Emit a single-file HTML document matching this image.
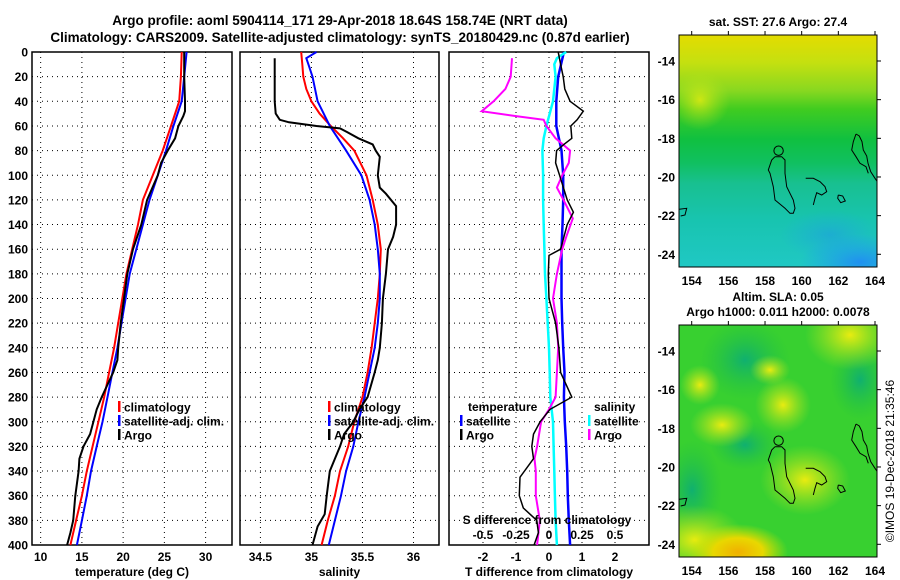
<!DOCTYPE html>
<html><head><meta charset="utf-8"><style>
html,body{margin:0;padding:0;background:#fff}
svg{display:block;font-family:"Liberation Sans",Arial,sans-serif;font-weight:bold}
</style></head><body>
<svg id="fig" width="900" height="580" viewBox="0 0 900 580">
<defs>
<linearGradient id="sstGrad" x1="0" y1="0" x2="0" y2="1">
<stop offset="0" stop-color="#e4dc00"/><stop offset="0.12" stop-color="#c4e010"/><stop offset="0.24" stop-color="#88d820"/>
<stop offset="0.32" stop-color="#40cc20"/><stop offset="0.45" stop-color="#10c040"/><stop offset="0.55" stop-color="#10c060"/>
<stop offset="0.64" stop-color="#18c090"/><stop offset="0.8" stop-color="#18c4b0"/><stop offset="1" stop-color="#20c8c4"/></linearGradient>
<radialGradient id="blueBlob" cx="0.5" cy="0.5" r="0.5"><stop offset="0" stop-color="#2090f0"/><stop offset="1" stop-color="#20a0f0" stop-opacity="0"/></radialGradient>
<radialGradient id="yelBlob" cx="0.5" cy="0.5" r="0.5"><stop offset="0" stop-color="#e8ec10"/><stop offset="1" stop-color="#b0e420" stop-opacity="0"/></radialGradient>
<radialGradient id="orBlob" cx="0.5" cy="0.5" r="0.5"><stop offset="0" stop-color="#f0b000"/><stop offset="0.5" stop-color="#e8d800"/><stop offset="1" stop-color="#c8e400" stop-opacity="0"/></radialGradient>
<radialGradient id="tealBlob" cx="0.5" cy="0.5" r="0.5"><stop offset="0" stop-color="#10b070"/><stop offset="1" stop-color="#20c040" stop-opacity="0"/></radialGradient>
<clipPath id="clipTop"><rect x="679" y="35" width="198" height="232"/></clipPath>
<clipPath id="clipBot"><rect x="679" y="325" width="198" height="232"/></clipPath>
</defs>
<text x="340" y="25" text-anchor="middle" font-size="13.5">Argo profile: aoml 5904114_171 29-Apr-2018 18.64S 158.74E (NRT data)</text>
<text x="340" y="42" text-anchor="middle" font-size="13.5">Climatology: CARS2009. Satellite-adjusted climatology: synTS_20180429.nc (0.87d earlier)</text>
<g id="panels"></g>
<g id="maps"></g>
</svg>
<script>
// ---- data (depth in m) ----
const tDepth=[0,20,40,60,80,100,120,140,160,180,200,220,240,260,280,300,320,340,360,380,400];
const tClim=[27.1,27.0,26.8,25.8,24.8,23.6,22.4,21.8,21.1,20.4,19.9,19.4,18.9,18.3,17.7,17.0,16.3,15.6,15.0,14.3,13.6];
const tSat=[27.7,27.4,27.1,26.1,25.2,24.2,23.2,22.4,21.6,20.8,20.3,19.8,19.3,18.7,18.1,17.5,16.8,16.1,15.6,15.0,14.4];
const argoDepth=[0,20,40,48,52,60,70,80,90,100,120,140,160,180,200,220,240,250,260,280,290,300,310,320,330,340,360,380,390,400];
const tArgo=[27.4,27.4,27.5,27.5,27.3,26.7,26.3,25.4,24.6,24.2,22.9,22.2,21.2,20.5,20.1,19.7,19.4,19.3,18.8,17.4,16.8,16.4,16.0,15.2,14.7,14.6,14.2,13.95,13.6,13.2];
const sDepth=[0,10,20,30,40,50,60,70,80,90,100,120,140,160,180,200,220,240,260,280,300,320,340,360,380,400];
const sClim=[34.90,34.91,34.92,34.95,35.00,35.08,35.19,35.31,35.42,35.48,35.54,35.60,35.65,35.68,35.67,35.65,35.62,35.59,35.55,35.50,35.42,35.36,35.28,35.23,35.16,35.10];
const sSatDepth=[0,5,10,20,40,60,80,100,120,140,160,180,200,220,240,260,280,300,320,340,360,380,400];
const sSat=[35.05,34.95,34.97,35.01,35.06,35.18,35.34,35.49,35.57,35.62,35.65,35.67,35.67,35.65,35.62,35.57,35.52,35.46,35.41,35.34,35.29,35.23,35.17];
const sArgoDepth=[5,20,40,50,55,57,60,62,65,70,75,80,85,100,110,115,125,140,150,160,180,200,220,240,250,260,280,290,300,310,320,330,340,360,375,385,400];
const sArgo=[34.64,34.64,34.64,34.65,34.69,34.78,35.05,35.28,35.35,35.46,35.60,35.63,35.67,35.65,35.67,35.73,35.83,35.83,35.80,35.75,35.73,35.70,35.69,35.67,35.65,35.62,35.55,35.47,35.41,35.32,35.28,35.23,35.18,35.15,35.13,35.06,35.01];
const dTSatDepth=[0,20,40,60,80,100,120,140,160,180,200,220,240,260,280,300,320,340,360,380,400];
const dTSat=[0.45,0.28,0.22,0.22,0.38,0.43,0.43,0.41,0.38,0.38,0.38,0.40,0.43,0.47,0.45,0.48,0.52,0.55,0.57,0.60,0.64];
const dSSatDepth=[0,5,10,20,40,60,70,80,100,120,140,160,180,200,220,240,260,280,300,320,340,360,380,400];
const dSSat=[0.13,0.06,0.04,0.05,0.03,-0.02,-0.04,-0.05,-0.045,-0.045,-0.04,-0.035,-0.03,-0.02,-0.01,0,0.005,0.01,0.03,0.035,0.04,0.045,0.05,0.06];
const dSArgoDepth=[5,20,30,40,48,52,55,60,70,80,90,100,110,120,135,150,160,180,200,220,240,260,280,290,300,320,330,340,360,380,400];
const dSArgo=[-0.28,-0.29,-0.33,-0.42,-0.51,-0.25,-0.04,-0.02,0.05,0.16,0.15,0.10,0.06,0.11,0.18,0.13,0.10,0.06,0.03,0.06,0.07,0.06,0.05,0,-0.06,-0.09,-0.11,-0.10,-0.10,-0.07,-0.09];
const dTArgoDepth=[0,10,20,30,40,48,55,60,70,75,80,90,100,120,130,140,160,165,180,200,220,240,260,280,290,300,310,320,330,345,360,370,380,390,400];
const dTArgo=[0.28,0.35,0.43,0.48,0.64,1.04,0.85,0.66,0.69,0.45,0.23,0.20,0.32,0.55,0.74,0.55,0.35,0.0,-0.02,0.0,0.2,0.3,0.35,0.69,0.03,-0.27,-0.47,-0.52,-0.47,-0.88,-0.9,-0.78,-0.37,-0.32,-0.45];
const depthTicks=[0,20,40,60,80,100,120,140,160,180,200,220,240,260,280,300,320,340,360,380,400];
const tTicks=[10,15,20,25,30];
const sTicks=[34.5,35,35.5,36];
const dTicks=[-2,-1,0,1,2];
const dSTickLabels=["-0.5","-0.25","0","0.25","0.5"];
const lonTicks=[154,156,158,160,162,164];
const latTicks=[-14,-16,-18,-20,-22,-24];

const NS="http://www.w3.org/2000/svg";
function mk(tag,attrs,parent){const e=document.createElementNS(NS,tag);for(const k in attrs)e.setAttribute(k,attrs[k]);parent.appendChild(e);return e;}
const P0=52,P1=545;
const yD=d=>P0+d*(P1-P0)/400;
const panels=document.getElementById('panels');

function panel(name,x0,x1,v0,v1,ticks,labels,title){
  const g=mk('g',{},panels);
  
  
  const xs=v=>x0+(v-v0)*(x1-x0)/(v1-v0);
  ticks.forEach((t,i)=>{
    const X=xs(t);
    const gl=mk('line',{x1:X,x2:X,y1:P0,y2:P1,stroke:'#000','stroke-width':1,'stroke-dasharray':'1 4'},g);
    
    
    const tl=mk('text',{x:X,y:561,'text-anchor':'middle','font-size':12},g);
    tl.textContent=labels[i];
    
    
  });
  depthTicks.forEach(d=>{
    const Y=yD(d);
    if(d>0&&d<400){
      const gl=mk('line',{x1:x0,x2:x1,y1:Y,y2:Y,stroke:'#000','stroke-width':1,'stroke-dasharray':'1 4'},g);
      
      
    }
  });
  const fr=mk('rect',{x:x0,y:P0,width:x1-x0,height:P1-P0,fill:'none',stroke:'#000','stroke-width':1.5},g);
  
  
  if(title){
    const tt=mk('text',{x:(x0+x1)/2,y:576,'text-anchor':'middle','font-size':12},g);
    tt.textContent=title;
    
    
  }
  return {g,xs};
}
function line(p,depths,vals,color,name,w){
  const pts=depths.map((d,i)=>p.xs(vals[i]).toFixed(1)+','+yD(d).toFixed(1)).join(' ');
  const l=mk('polyline',{points:pts,fill:'none',stroke:color,'stroke-width':w||2},p.g);
  
  
}
function legend(g,x,y,color,label,name){
  const b=mk('rect',{x:x,y:y-6,width:2.5,height:11,fill:color},g);
  
  
  const t=mk('text',{x:x+6,y:y+4.5,'font-size':12},g);
  t.textContent=label;
  
  
}
depthTicks.forEach(d=>{
  const t=mk('text',{x:28,y:yD(d)+4.5,'text-anchor':'end','font-size':12},panels);
  t.textContent=d;
  
  
});
const pT=panel('temperature',32,232,8.95,33.2,tTicks,tTicks.map(String),'temperature (deg C)');
line(pT,tDepth,tClim,'#ff0000','temperature-climatology-line');
line(pT,tDepth,tSat,'#0000ff','temperature-satellite-line');
line(pT,argoDepth,tArgo,'#000000','temperature-argo-line');
legend(pT.g,118,407,'#ff0000','climatology','legend-climatology');
legend(pT.g,118,421,'#0000ff','satellite-adj. clim.','legend-satellite-adj');
legend(pT.g,118,435,'#000000','Argo','legend-argo');
const pS=panel('salinity',240,439,34.30,36.25,sTicks,sTicks.map(String),'salinity');
line(pS,sDepth,sClim,'#ff0000','salinity-climatology-line');
line(pS,sSatDepth,sSat,'#0000ff','salinity-satellite-line');
line(pS,sArgoDepth,sArgo,'#000000','salinity-argo-line');
legend(pS.g,328,407,'#ff0000','climatology','legend-climatology-sal');
legend(pS.g,328,421,'#0000ff','satellite-adj. clim.','legend-satellite-adj-sal');
legend(pS.g,328,435,'#000000','Argo','legend-argo-sal');
const pD=panel('difference',449,649,-3.03,3.03,dTicks,dTicks.map(String),'T difference from climatology');
const pDS={g:pD.g,xs:v=>pD.xs(v*4)};
line(pD,dTSatDepth,dTSat,'#0000ff','t-diff-satellite-line',2.5);
line(pDS,dSSatDepth,dSSat,'#00ffff','s-diff-satellite-line',2.5);
line(pDS,dSArgoDepth,dSArgo,'#ff00ff','s-diff-argo-line');
line(pD,dTArgoDepth,dTArgo,'#000000','t-diff-argo-line',1.5);
(function(){
  const t=mk('text',{x:468,y:411,'font-size':12},pD.g);t.textContent='temperature';
  
  
  const s=mk('text',{x:594,y:411,'font-size':12},pD.g);s.textContent='salinity';
  
  
})();
legend(pD.g,460,421,'#0000ff','satellite','legend-t-satellite');
legend(pD.g,460,435,'#000000','Argo','legend-t-argo');
legend(pD.g,588,421,'#00ffff','satellite','legend-s-satellite');
legend(pD.g,588,435,'#ff00ff','Argo','legend-s-argo');
(function(){
  const t=mk('text',{x:547,y:524,'text-anchor':'middle','font-size':12},pD.g);t.textContent='S difference from climatology';
  
  
  dSTickLabels.forEach((lab,i)=>{
    const v=parseFloat(lab);
    const e=mk('text',{x:pD.xs(v*4),y:539,'text-anchor':'middle','font-size':12},pD.g);e.textContent=lab;
    
    
  });
})();

const maps=document.getElementById('maps');
const lonX=l=>691.7+(l-154)*18.33;
const latY=(la,off)=>61+off+(-14-la)*19.33;
const coastMain=[[345,470],[335,480],[325,510],[330,520],[340,560],[345,600],[375,625],[390,640],[400,640],[405,625],[400,600],[380,560],[375,520],[375,480],[365,470],[345,470]];
const coastLoy=[[437,535],[460,535],[480,545],[495,560],[500,575],[485,585],[470,578],[465,595],[460,615]];
const coastIsl=[[535,585],[548,588],[556,603],[542,608],[533,595],[535,585]];
const coastVan=[[588,402],[598,408],[606,425],[610,450],[620,468],[624,490],[632,515],[645,535],[652,545]];
const coastVan2=[[588,402],[580,425],[575,450],[588,470],[600,490],[618,500],[625,520]];
const coastNW=[[58,628],[80,625],[75,645],[62,648]];
function map(off,clip,name,kind){
  const g=mk('g',{},maps);
  
  
  const c=mk('g',{'clip-path':'url(#'+clip+')'},g);
  if(kind==='sst'){
    mk('rect',{x:679,y:35+off,width:198,height:232,fill:'url(#sstGrad)'},c);
    mk('ellipse',{cx:860,cy:262+off,rx:60,ry:28,fill:'url(#blueBlob)'},c);
    mk('ellipse',{cx:830,cy:235+off,rx:50,ry:25,fill:'url(#blueBlob)',opacity:0.45},c);
    mk('ellipse',{cx:700,cy:100+off,rx:30,ry:30,fill:'url(#yelBlob)',opacity:0.8},c);
  } else {
    mk('rect',{x:679,y:35+off,width:198,height:232,fill:'#38d030'},c);
    [[745,70,45,40],[692,200,30,50],[745,155,35,25],[860,90,30,40]].forEach(b=>mk('ellipse',{cx:b[0],cy:b[1]+off,rx:b[2],ry:b[3],fill:'url(#tealBlob)'},c));
    [[850,45,45,35],[783,115,28,28],[722,135,32,22],[805,190,45,35],[695,250,50,35],[770,80,20,15],[700,95,20,20]].forEach(b=>mk('ellipse',{cx:b[0],cy:b[1]+off,rx:b[2],ry:b[3],fill:'url(#yelBlob)'},c));
    mk('ellipse',{cx:738,cy:262+off,rx:50,ry:28,fill:'url(#orBlob)'},c);
  }
  [coastMain,coastLoy,coastIsl,coastVan,coastVan2,coastNW].forEach(cs=>{
    const pts=cs.map(p=>(660+p[0]/3).toFixed(1)+','+(p[1]/3+off).toFixed(1)).join(' ');
    const l=mk('polyline',{points:pts,fill:'none',stroke:'#000','stroke-width':1},c);
    
    
  });
  const m=mk('circle',{cx:lonX(158.74),cy:latY(-18.64,off),r:4.7,fill:'none',stroke:'#000','stroke-width':1},g);
  
  
  mk('rect',{x:679,y:35+off,width:198,height:232,fill:'none',stroke:'#000','stroke-width':1},g);
  lonTicks.forEach(l=>{
    const X=lonX(l);
    mk('line',{x1:X,x2:X,y1:35+off,y2:31+off,stroke:'#000'},g);
    const t=mk('text',{x:X,y:285+off,'text-anchor':'middle','font-size':12},g);t.textContent=l;
    
    
  });
  latTicks.forEach(la=>{
    const Y=latY(la,off);
    mk('line',{x1:877,x2:881,y1:Y,y2:Y,stroke:'#000'},g);
    const t=mk('text',{x:675,y:Y+4.5,'text-anchor':'end','font-size':12},g);t.textContent=la;
    
    
  });
}
map(0,'clipTop','sst-map','sst');
map(290,'clipBot','sla-map','sla');
function txt(x,y,s,name,extra){const t=mk('text',Object.assign({x:x,y:y,'text-anchor':'middle','font-size':12},extra||{}),maps);t.textContent=s;
  
  }
txt(778,26,'sat. SST: 27.6 Argo: 27.4','sst-map-title');
txt(778,301,'Altim. SLA: 0.05','sla-map-title');
txt(778,316,'Argo h1000: 0.011 h2000: 0.0078','argo-height-title');
txt(0,0,'©IMOS 19-Dec-2018 21:35:46','timestamp',{transform:'translate(894,461) rotate(-90)','font-weight':'normal'});
</script>
</body></html>
